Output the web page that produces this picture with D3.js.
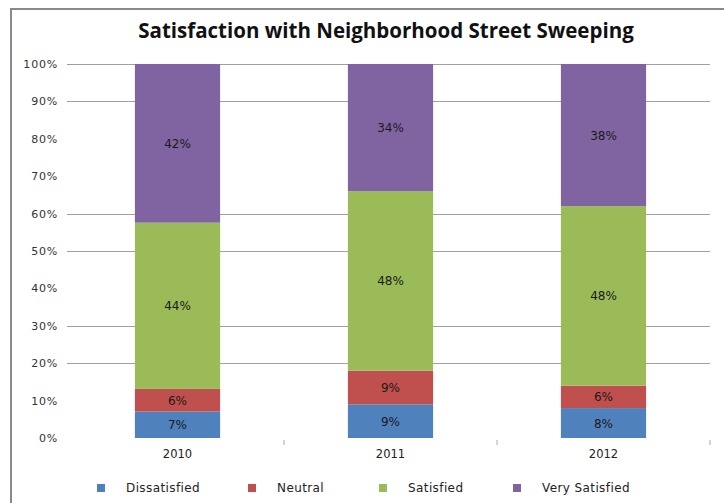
<!DOCTYPE html>
<html>
<head>
<meta charset="utf-8">
<script src="https://cdn.jsdelivr.net/npm/d3@7"></script>
<style>
  html, body { margin: 0; padding: 0; background: #fff; }
  svg { display: block; }
</style>
</head>
<body>
<svg id="chart" width="724" height="503"></svg>
<script>
// Survey results by year (percent of respondents)
const years = ["2010", "2011", "2012"];
const seriesNames = ["Dissatisfied", "Neutral", "Satisfied", "Very Satisfied"];
const dissatisfied = [7, 9, 8];
const neutral = [6, 9, 6];
const satisfied = [44, 48, 48];
const verySatisfied = [42, 34, 38];
const yTicks = [0, 0.1, 0.2, 0.3, 0.4, 0.5, 0.6, 0.7, 0.8, 0.9, 1.0];
const gridTicks = [0.2, 0.3, 0.5, 0.6, 0.9, 1.0];
const colors = ["#4F81BD", "#C0504D", "#9BBB59", "#8064A2"];

const rows = years.map((y, i) => ({
  year: y,
  "Dissatisfied": dissatisfied[i],
  "Neutral": neutral[i],
  "Satisfied": satisfied[i],
  "Very Satisfied": verySatisfied[i]
}));

const svg = d3.select("#chart");

// outer frame (left and top edges)
svg.append("line").attr("x1", 11).attr("x2", 11).attr("y1", 8).attr("y2", 503)
  .attr("stroke", "#8a8a8a").attr("stroke-width", 2);
svg.append("line").attr("x1", 10).attr("x2", 724).attr("y1", 9).attr("y2", 9)
  .attr("stroke", "#8a8a8a").attr("stroke-width", 2);

svg.append("text")
  .attr("x", 386).attr("y", 38)
  .attr("text-anchor", "middle")
  .attr("font-family", "'Open Sans', sans-serif")
  .attr("font-weight", "bold")
  .attr("font-size", 20.5)
  .attr("fill", "#111")
  .text("Satisfaction with Neighborhood Street Sweeping");

const x = d3.scaleBand().domain(years).range([71, 710]).paddingInner(0.6).paddingOuter(0.3);
const y = d3.scaleLinear().domain([0, 1]).range([438, 64]);

// gridlines
svg.append("g").selectAll("line").data(gridTicks).join("line")
  .attr("x1", 67).attr("x2", 710)
  .attr("y1", d => Math.round(y(d)) + 0.5).attr("y2", d => Math.round(y(d)) + 0.5)
  .attr("stroke", "#a0a0a0").attr("stroke-width", 1);

// y axis labels
const yAxis = d3.axisLeft(y).tickValues(yTicks).tickFormat(d3.format(".0%")).tickSize(0).tickPadding(0);
const gy = svg.append("g").attr("transform", "translate(58,0)").call(yAxis);
gy.select(".domain").remove();
gy.selectAll("text").attr("font-family", "'DejaVu Sans', sans-serif").attr("font-size", 11)
  .attr("letter-spacing", 0.8).attr("fill", "#333");

// x axis: category boundary ticks and labels
const step = x.step();
const bounds = years.map((d, i) => 71 + step * (i + 1));
svg.append("g").selectAll("line").data(bounds).join("line")
  .attr("x1", d => d).attr("x2", d => d).attr("y1", 440).attr("y2", 445)
  .attr("stroke", "#aaa");
const xAxis = d3.axisBottom(x).tickSize(0).tickPadding(0);
const gx = svg.append("g").attr("transform", "translate(0,450)").call(xAxis);
gx.select(".domain").remove();
gx.selectAll("text").attr("font-family", "'DejaVu Sans', sans-serif").attr("font-size", 11.5).attr("fill", "#222");

// stacked bars, normalised to 100%
const stack = d3.stack().keys(seriesNames).offset(d3.stackOffsetExpand);
const layers = stack(rows);

const g = svg.append("g");
layers.forEach((layer, li) => {
  g.append("g").selectAll("rect").data(layer).join("rect")
    .attr("x", d => x(d.data.year))
    .attr("width", x.bandwidth())
    .attr("y", d => y(d[1]))
    .attr("height", d => y(d[0]) - y(d[1]))
    .attr("fill", colors[li]);
  g.append("g").selectAll("text").data(layer).join("text")
    .attr("x", d => x(d.data.year) + x.bandwidth() / 2)
    .attr("y", d => (y(d[0]) + y(d[1])) / 2 + 4.5)
    .attr("text-anchor", "middle")
    .attr("font-family", "'DejaVu Sans', sans-serif")
    .attr("font-size", 12)
    .attr("fill", "#1a1a1a")
    .text(d => d.data[layer.key] + "%");
});

// legend
const legendX = [97, 248, 379, 513];
const lg = svg.append("g");
seriesNames.forEach((name, i) => {
  lg.append("rect").attr("x", legendX[i]).attr("y", 484).attr("width", 8).attr("height", 8).attr("fill", colors[i]);
  lg.append("text").attr("x", legendX[i] + 29).attr("y", 492)
    .attr("font-family", "'DejaVu Sans', sans-serif").attr("font-size", 12)
    .attr("letter-spacing", 0.4).attr("fill", "#222")
    .text(name);
});
</script>
</body>
</html>
